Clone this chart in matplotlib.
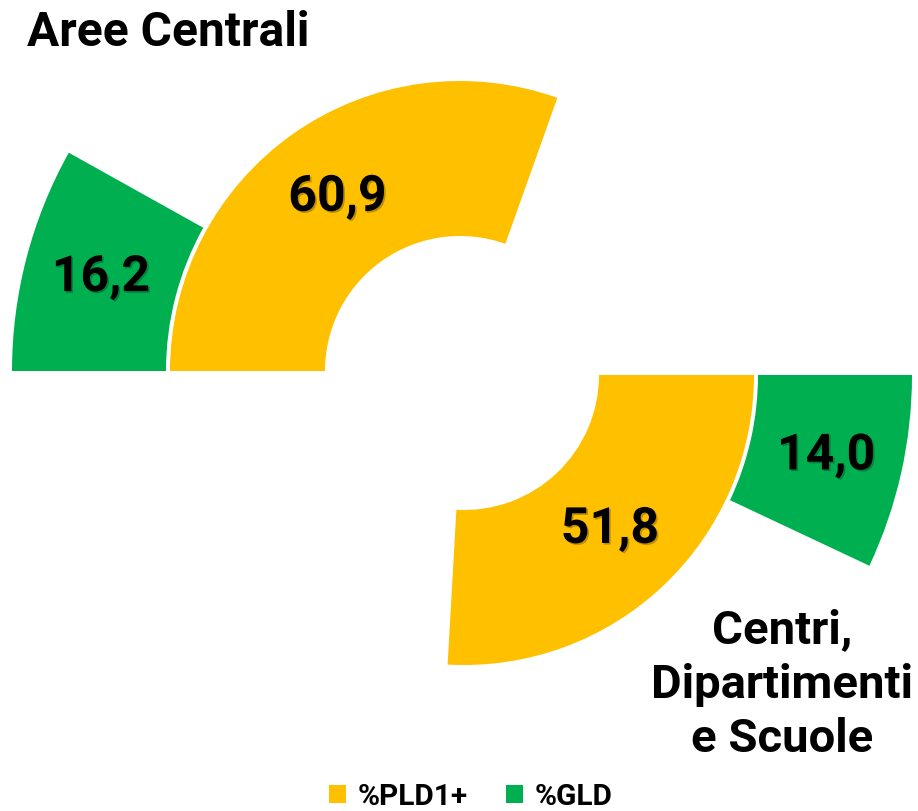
import matplotlib
matplotlib.use('Agg')
import matplotlib.pyplot as plt
from matplotlib.patches import Wedge, Patch
import matplotlib.patheffects as pe
import numpy as np

# share of staff per area, 100% = half circle
groups = ['Aree Centrali', 'Centri, Dipartimenti e Scuole']
series = ['%PLD1+', '%GLD']
pld_values = [60.9, 51.8]
gld_values = [16.2, 14.0]

colors = {'%PLD1+': '#FFC000', '%GLD': '#00B050'}

plt.rcParams['font.family'] = ['Roboto', 'DejaVu Sans']

W, H = 918, 812
fig = plt.figure(figsize=(W / 100, H / 100), dpi=100)
ax = fig.add_axes([0, 0, 1, 1])
ax.set_xlim(0, W)
ax.set_ylim(0, H)
ax.set_aspect('equal')
ax.axis('off')

# gauge centres (pixel coords, y up) and start angle of each half ring;
# both rings sweep clockwise from the start angle
centres = [(460, H - 372), (464, H - 376)]
starts = [180, 0]
rings = {'%PLD1+': (135, 290), '%GLD': (294, 448)}

shadow = [pe.SimplePatchShadow(offset=(1.2, -1.2), shadow_rgbFace='black', alpha=0.25),
          pe.Normal()]

for i, (cx, cy) in enumerate(centres):
    vals = {'%PLD1+': pld_values[i], '%GLD': gld_values[i]}
    for name in series:
        v = vals[name]
        span = v / 100 * 180
        r_in, r_out = rings[name]
        t2 = starts[i]
        t1 = t2 - span
        ax.add_patch(Wedge((cx, cy), r_out, t1, t2, width=r_out - r_in,
                           facecolor=colors[name], edgecolor='none'))
        # value label in the middle of the segment
        a = np.deg2rad(t2 - span / 2)
        rm = (r_in + r_out) / 2
        ax.text(cx + rm * np.cos(a), cy + rm * np.sin(a),
                f'{v:.1f}'.replace('.', ','), ha='center', va='center',
                fontsize=36, fontweight='bold', color='black', path_effects=shadow)

# group titles
ax.text(27, H - 46, 'Aree Centrali', ha='left', va='baseline',
        fontsize=34.5, fontweight='bold')
for line, yb in zip(['Centri,', 'Dipartimenti', 'e Scuole'], [643, 698, 752]):
    ax.text(782, H - yb, line, ha='center', va='baseline',
            fontsize=34, fontweight='bold')

handles = [Patch(facecolor=colors[s], edgecolor='none', label=s) for s in series]
ax.legend(handles=handles, loc='lower center', bbox_to_anchor=(0.513, -0.032),
          ncol=2, frameon=False, handlelength=0.55, handleheight=0.55,
          handletextpad=0.4, columnspacing=1.3,
          prop={'family': 'Roboto', 'weight': 'bold', 'size': 21.5})

fig.savefig('out.png', dpi=100)
